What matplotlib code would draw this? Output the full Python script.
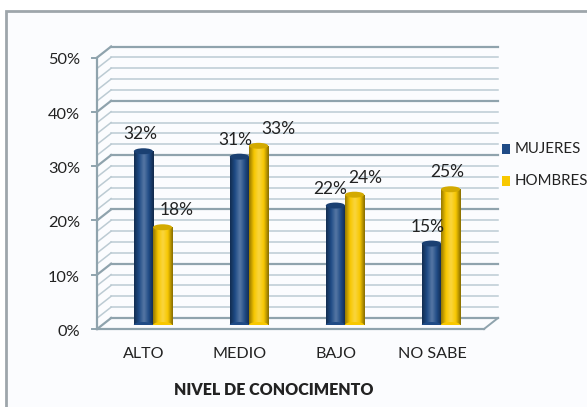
import numpy as np
import matplotlib
matplotlib.use("Agg")
import matplotlib.pyplot as plt
import matplotlib.colors as mc
from matplotlib import transforms
from matplotlib.patches import Ellipse, Rectangle
from matplotlib.colors import LinearSegmentedColormap

plt.rcParams['font.family'] = ['Lato', 'DejaVu Sans']

# ---- data ----
categories = ["ALTO", "MEDIO", "BAJO", "NO SABE"]
series_names = ["MUJERES", "HOMBRES"]
mujeres = [32, 31, 22, 15]
hombres = [18, 33, 24, 25]
y_ticks = [0, 10, 20, 30, 40, 50]
y_tick_labels = ["0%", "10%", "20%", "30%", "40%", "50%"]
x_title = "NIVEL DE CONOCIMENTO"

# ---- style ----
W, H, DPI = 587, 407, 100
blue = "#1f4b86"
yellow = "#f8c800"
grid_minor = "#bccbd3"
grid_major = "#8fa3ad"
text_col = "#222222"
# label nudges (px) for data labels, per series/category
lab_dx = [[-3, -4, -5, -4], [14, 20, 11, -3]]

fig = plt.figure(figsize=(W / DPI, H / DPI), dpi=DPI)
fig.patch.set_facecolor("white")

# chart area background + border
bg = fig.add_axes([0, 0, 1, 1])
bg.set_xlim(0, W); bg.set_ylim(H, 0); bg.axis("off")
bg.add_patch(Rectangle((6, 11), W, H, facecolor="#fbfcfe", edgecolor="#9ea6ab", lw=2))

# plot axes in bar plane
left_px, right_px = 105, 489
zero_px, top_px = 325, 325 - 271.5
ax = fig.add_axes([left_px / W, (H - zero_px) / H, (right_px - left_px) / W, (zero_px - top_px) / H])
ax.set_xlim(-0.5, 3.5)
ax.set_ylim(0, 50)
ax.axis("off")

front = transforms.offset_copy(ax.transData, fig=fig, x=-5, y=-4, units="dots")
back = transforms.offset_copy(ax.transData, fig=fig, x=9, y=7, units="dots")

xl, xr = -0.53, 3.5
# back wall gridlines and left wall diagonals
for v in np.arange(0, 51, 2):
    major = (v % 10 == 0)
    c = grid_major if major else grid_minor
    lw = 1.6 if major else 1.1
    ax.plot([xl, xr], [v, v], color=c, lw=lw, transform=back, clip_on=False, zorder=1)
    p0 = front.transform((xl, v))
    p1 = back.transform((xl, v))
    ax.plot([p0[0], p1[0]], [p0[1], p1[1]], color=c, lw=lw, transform=None, clip_on=False, zorder=1)

# front vertical axis and floor
ax.plot([xl, xl], [0, 50], color=grid_major, lw=1.6, transform=front, clip_on=False, zorder=2)
ax.plot([xl, xr], [0, 0], color=grid_major, lw=1.6, transform=front, clip_on=False, zorder=2)
p0 = front.transform((xr, 0)); p1 = back.transform((xr, 0))
ax.plot([p0[0], p1[0]], [p0[1], p1[1]], color=grid_major, lw=1.4, transform=None, clip_on=False, zorder=2)

# tick marks and labels at front axis
for v, lab in zip(y_ticks, y_tick_labels):
    p = front.transform((xl, v))
    ax.plot([p[0] - 5, p[0]], [p[1], p[1]], color=grid_major, lw=1.4, transform=None, clip_on=False)
    ax.text(p[0] - 17, p[1] - 3, lab, transform=None, ha="right", va="center",
            fontsize=11.8, color=text_col)

x = np.arange(len(categories))
bw = 0.2

def shade_cmap(base):
    b = np.array(mc.to_rgb(base))
    dark = b * 0.6
    light = np.clip(b + (1 - b) * 0.25, 0, 1)
    return LinearSegmentedColormap.from_list("s", [dark, b, light, b, dark * 0.9])

ell_h = 1.1  # cap ellipse height in data units
for si, (vals, col) in enumerate([(mujeres, blue), (hombres, yellow)]):
    xs = x - bw / 2 + si * bw
    bars = ax.bar(xs, vals, width=bw, color=col, zorder=5 + si, label=series_names[si])
    cmap = shade_cmap(col)
    grad = np.linspace(0, 1, 64).reshape(1, -1)
    cb = np.array(mc.to_rgb(col))
    for b, v, xc, dx in zip(bars, vals, xs, lab_dx[si]):
        im = ax.imshow(grad, extent=(xc - bw / 2, xc + bw / 2, 0, v), aspect="auto",
                       cmap=cmap, zorder=5 + si, interpolation="bicubic")
        im.set_clip_path(b)
        bot = Ellipse((xc, 0), bw, ell_h, facecolor=col, edgecolor="none", zorder=5 + si)
        ax.add_patch(bot)
        bot_img = ax.imshow(grad, extent=(xc - bw / 2, xc + bw / 2, -ell_h, 0), aspect="auto",
                            cmap=cmap, zorder=5 + si)
        bot_img.set_clip_path(bot)
        cap = Ellipse((xc, v), bw, ell_h, facecolor=np.clip(cb * 0.85, 0, 1),
                      edgecolor="none", zorder=5.5 + si)
        ax.add_patch(cap)
        p = ax.transData.transform((xc, v))
        ax.text(p[0] + dx, p[1] + 17, f"{v}%", transform=None, ha="center", va="center",
                fontsize=12.5, color=text_col, zorder=10)

ax.set_ylim(0, 50)
ax.set_xlim(-0.5, 3.5)

# category labels
for xi, c in zip(x, categories):
    p = ax.transData.transform((xi, 0))
    ax.text(p[0] - 9, H - 354, c, transform=None, ha="center", va="center",
            fontsize=11.6, color=text_col)

fig.text(274 / W, 1 - 390 / H, x_title, ha="center", va="center", fontsize=11.5,
         fontweight="heavy", color=text_col)

# legend
for i, (name, col) in enumerate(zip(series_names, [blue, yellow])):
    yc = 149 + i * 32
    bg.add_patch(Rectangle((502, yc - 5), 8, 10, facecolor=col, edgecolor="none"))
    bg.text(515, yc, name, ha="left", va="center", fontsize=10.8, color=text_col)

fig.savefig("out.png", dpi=DPI, facecolor=fig.get_facecolor())
